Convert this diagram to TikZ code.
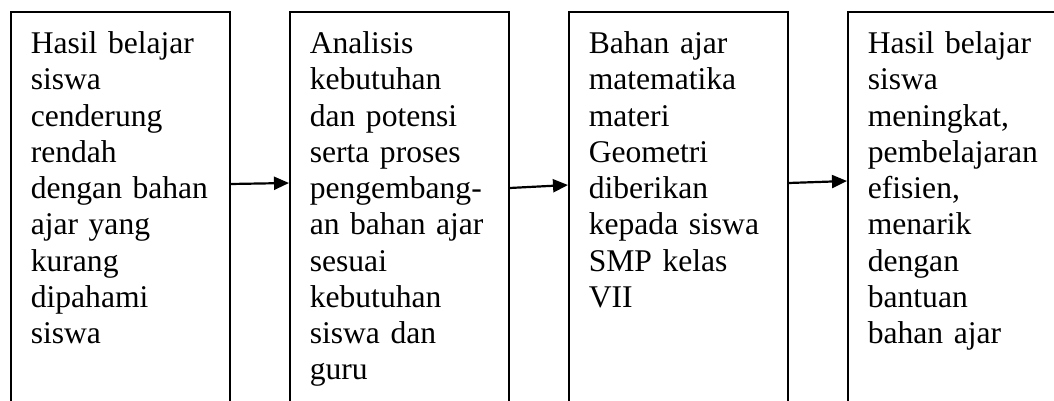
\documentclass[tikz,border=0pt]{standalone}
\usepackage{fontspec}
\setmainfont{Liberation Serif}
\usetikzlibrary{arrows.meta}

\tikzset{
    stage/.style={draw, line width=1.6pt, anchor=north west, align=left,
        text width=179pt, inner xsep=20pt, inner ysep=20pt, text depth=420pt,
        font=\fontsize{31.6}{36.25}\selectfont},
    flow/.style={line width=2.2pt, -{Triangle[length=15pt,width=13pt]}}
}

\begin{document}
\begin{tikzpicture}[x=1pt, y=1pt]
    \useasboundingbox (0,0) rectangle (1054,-401);

    \node[stage] (cause) at (10,-11) {Hasil belajar\\ siswa\\ cenderung\\ rendah\\ dengan bahan\\ ajar yang\\ kurang\\ dipahami\\ siswa};
    \node[stage] (analysis) at (289,-11) {Analisis\\ kebutuhan\\ dan potensi\\ serta proses\\ pengembang-\\ an bahan ajar\\ sesuai\\ kebutuhan\\ siswa dan\\ guru};
    \node[stage] (material) at (568,-11) {Bahan ajar\\ matematika\\ materi\\ Geometri\\ diberikan\\ kepada siswa\\ SMP kelas\\ VII};
    \node[stage] (result) at (847,-11) {Hasil belajar\\ siswa\\ meningkat,\\ pembelajaran\\ efisien,\\ menarik\\ dengan\\ bantuan\\ bahan ajar};

    \draw[flow] ([yshift=-173pt]cause.north east) -- ([yshift=-172pt]analysis.north west);
    \draw[flow] ([yshift=-177pt]analysis.north east) -- ([yshift=-174pt]material.north west);
    \draw[flow] ([yshift=-172pt]material.north east) -- ([yshift=-170pt]result.north west);
\end{tikzpicture}
\end{document}
